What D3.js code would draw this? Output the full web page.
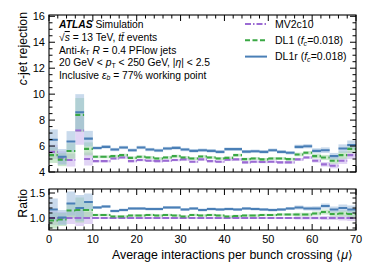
<!DOCTYPE html>
<html><head><meta charset="utf-8">
<script src="https://cdn.jsdelivr.net/npm/d3@7"></script>
<style>
body{margin:0;background:#fff;}
text{font-family:"Liberation Sans",Arial,Helvetica,sans-serif;fill:#000;}
</style></head>
<body><svg id="c" width="374" height="280"></svg>
<script>
// ---- data ----
const binLow = [0,2,4,6,8,10,12,14,16,18,20,22,24,26,28,30,32,34,36,38,40,42,44,46,48,50,52,54,56,58,60,62,64,66,68];
const binWidth = 2;
const seriesNames = ["MV2c10", "DL1", "DL1r"];
const mv2c10 = [5.55,5.10,4.92,7.20,5.00,4.84,4.84,5.04,5.12,4.84,4.92,4.87,4.84,4.87,4.92,4.97,4.79,4.97,4.84,4.79,4.94,4.97,4.74,4.79,4.77,4.79,4.74,4.74,4.97,5.12,4.87,4.59,4.48,4.87,5.30];
const dl1    = [5.30,4.95,5.62,8.40,5.78,5.17,5.17,5.22,5.30,5.09,5.17,5.12,5.04,5.12,5.22,5.12,5.04,5.20,5.12,5.04,5.09,5.30,4.99,5.04,4.97,5.04,5.04,4.99,5.35,5.48,5.22,5.12,4.87,5.30,5.78];
const dl1r   = [6.48,5.17,6.35,8.60,6.57,5.85,5.94,5.73,5.89,5.68,5.89,5.73,5.66,5.81,5.86,5.73,5.63,5.68,5.63,5.55,5.76,5.76,5.57,5.60,5.55,5.68,5.55,5.48,5.94,5.99,5.63,5.68,5.22,5.81,6.08];
const mv2c10Err = [0.55,0.50,0.50,1.10,0.50,0.10,0.10,0.10,0.10,0.10,0.10,0.10,0.10,0.10,0.10,0.10,0.10,0.10,0.10,0.10,0.10,0.10,0.10,0.10,0.10,0.10,0.10,0.10,0.12,0.12,0.15,0.18,0.20,0.25,0.30];
const dl1Err    = [0.60,0.50,0.60,1.30,0.50,0.11,0.11,0.11,0.11,0.11,0.11,0.11,0.11,0.11,0.11,0.11,0.11,0.11,0.11,0.11,0.11,0.11,0.11,0.11,0.11,0.11,0.11,0.11,0.14,0.14,0.17,0.20,0.22,0.28,0.32];
const dl1rErr   = [0.80,0.60,0.80,1.40,0.60,0.13,0.13,0.13,0.13,0.13,0.13,0.13,0.13,0.13,0.13,0.13,0.13,0.13,0.13,0.13,0.13,0.13,0.13,0.13,0.13,0.13,0.13,0.13,0.16,0.16,0.20,0.22,0.25,0.32,0.35];
// ratio to MV2c10
const ratioMv2c10 = [1,1,1,1,1,1,1,1,1,1,1,1,1,1,1,1,1,1,1,1,1,1,1,1,1,1,1,1,1,1,1,1,1,1,1];
const ratioDl1    = [0.95,0.97,1.15,1.16,1.16,1.06,1.06,1.03,1.03,1.05,1.05,1.06,1.05,1.06,1.05,1.03,1.06,1.05,1.06,1.05,1.03,1.04,1.05,1.05,1.06,1.06,1.07,1.07,1.07,1.07,1.09,1.12,1.08,1.09,1.08];
const ratioDl1r   = [1.17,1.01,1.29,1.20,1.32,1.21,1.23,1.14,1.16,1.19,1.19,1.18,1.18,1.21,1.21,1.17,1.19,1.16,1.18,1.17,1.18,1.17,1.19,1.18,1.17,1.16,1.17,1.19,1.21,1.19,1.19,1.24,1.17,1.20,1.17];
const ratioMv2c10Err = [0.14,0.12,0.12,0.16,0.12,0.02,0.02,0.02,0.02,0.02,0.02,0.02,0.02,0.02,0.02,0.02,0.02,0.02,0.02,0.02,0.02,0.02,0.02,0.02,0.02,0.02,0.02,0.02,0.03,0.03,0.03,0.04,0.04,0.05,0.06];
const ratioDl1Err    = [0.16,0.13,0.15,0.25,0.14,0.025,0.025,0.025,0.025,0.025,0.025,0.025,0.025,0.025,0.025,0.025,0.025,0.025,0.025,0.025,0.025,0.025,0.025,0.025,0.025,0.025,0.025,0.025,0.035,0.035,0.04,0.05,0.05,0.06,0.07];
const ratioDl1rErr   = [0.22,0.15,0.24,0.26,0.17,0.03,0.03,0.03,0.03,0.03,0.03,0.03,0.03,0.03,0.03,0.03,0.03,0.03,0.03,0.03,0.03,0.03,0.03,0.03,0.03,0.03,0.03,0.03,0.04,0.04,0.045,0.05,0.06,0.07,0.08];
const mainTicks = [4,6,8,10,12,14,16];
const ratioTicks = [1.0,1.5];
const xTicks = [0,10,20,30,40,50,60,70];

// ---- styles ----
const styles = {
  MV2c10:{color:"#9b6bd3", band:"#c9b0ec", dash:"6,2,1.5,2"},
  DL1:{color:"#3aa844", band:"#9fd6a3", dash:"5,2.5"},
  DL1r:{color:"#4a7fb6", band:"#9dbcdc", dash:null}
};

const svg = d3.select("#c");
const x = d3.scaleLinear().domain([0,70]).range([49,356]);
const yMain = d3.scaleLinear().domain([4,16.1]).range([172,15]);
const yRatio = d3.scaleLinear().domain([0.76,1.58]).range([230,189]);

function drawPanel(y, series, majorTicks, minorStep, fmt, drawXLabels){
  const g = svg.append("g");
  const [y0, y1] = y.domain();
  series.forEach(s=>{
    const st = styles[s.name];
    g.append("g").selectAll("rect").data(s.vals).join("rect")
      .attr("x",(d,i)=>x(binLow[i]))
      .attr("width",(d,i)=>x(binLow[i]+binWidth)-x(binLow[i]))
      .attr("y",(d,i)=>y(Math.min(d+s.err[i], y1)))
      .attr("height",(d,i)=>y(Math.max(d-s.err[i], y0))-y(Math.min(d+s.err[i], y1)))
      .attr("fill",st.band).attr("fill-opacity",0.55);
  });
  series.forEach(s=>{
    const st = styles[s.name];
    const p = d3.path();
    s.vals.forEach((d,i)=>{ p.moveTo(x(binLow[i]), y(d)); p.lineTo(x(binLow[i]+binWidth), y(d)); });
    g.append("path").attr("d",p.toString()).attr("fill","none")
      .attr("stroke",st.color).attr("stroke-width",2.1)
      .attr("stroke-dasharray",st.dash);
  });
  const r = y.range();
  g.append("rect").attr("x",x(0)).attr("y",r[1]).attr("width",x(70)-x(0)).attr("height",r[0]-r[1])
    .attr("fill","none").attr("stroke","#000").attr("stroke-width",1.1);
  const xMinor = d3.range(0,70.01,2);
  xMinor.forEach(v=>{
    const major = xTicks.includes(v);
    const len = major?6:3.5;
    g.append("line").attr("x1",x(v)).attr("x2",x(v)).attr("y1",r[0]).attr("y2",r[0]-len).attr("stroke","#000").attr("stroke-width",1);
    g.append("line").attr("x1",x(v)).attr("x2",x(v)).attr("y1",r[1]).attr("y2",r[1]+len).attr("stroke","#000").attr("stroke-width",1);
  });
  const ticksAll = d3.range(Math.ceil(y0/minorStep)*minorStep, y1+1e-9, minorStep);
  ticksAll.forEach(v=>{
    const major = majorTicks.some(t=>Math.abs(t-v)<1e-6);
    const len = major?6:3.5;
    g.append("line").attr("x1",x(0)).attr("x2",x(0)+len).attr("y1",y(v)).attr("y2",y(v)).attr("stroke","#000").attr("stroke-width",1);
    g.append("line").attr("x1",x(70)).attr("x2",x(70)-len).attr("y1",y(v)).attr("y2",y(v)).attr("stroke","#000").attr("stroke-width",1);
  });
  majorTicks.forEach(v=>{
    g.append("text").attr("x",x(0)-4).attr("y",y(v)+4).attr("text-anchor","end")
      .attr("font-size",11).text(fmt(v));
  });
  if(drawXLabels){
    xTicks.forEach(v=>{
      g.append("text").attr("x",x(v)).attr("y",r[0]+13).attr("text-anchor","middle")
        .attr("font-size",11).text(v);
    });
  }
}

drawPanel(yMain, [
  {name:"MV2c10", vals:mv2c10, err:mv2c10Err},
  {name:"DL1", vals:dl1, err:dl1Err},
  {name:"DL1r", vals:dl1r, err:dl1rErr}
], mainTicks, 0.5, d=>d, false);

drawPanel(yRatio, [
  {name:"MV2c10", vals:ratioMv2c10, err:ratioMv2c10Err},
  {name:"DL1", vals:ratioDl1, err:ratioDl1Err},
  {name:"DL1r", vals:ratioDl1r, err:ratioDl1rErr}
], ratioTicks, 0.1, d3.format(".1f"), true);

function rich(parent, xPos, yPos, parts, size){
  const t = parent.append("text").attr("x",xPos).attr("y",yPos).attr("font-size",size);
  let shift = 0;
  parts.forEach(p=>{
    const ts = t.append("tspan").text(p.t);
    if(p.i) ts.attr("font-style","italic");
    if(p.b) ts.attr("font-weight","bold");
    if(p.ol) ts.attr("text-decoration","overline");
    if(p.sub){ ts.attr("dy", 1.8 - shift).attr("font-size", size*0.68); shift = 1.8; }
    else if(shift){ ts.attr("dy", -shift); shift = 0; }
  });
  return t;
}

svg.append("text").attr("transform",`translate(27,${yMain.range()[1]-3}) rotate(-90)`)
  .attr("text-anchor","end").attr("font-size",12.3)
  .call(t=>{ t.append("tspan").attr("font-style","italic").text("c"); t.append("tspan").text("-jet rejection"); });
svg.append("text").attr("transform",`translate(27,${yRatio.range()[1]}) rotate(-90)`)
  .attr("text-anchor","end").attr("font-size",12.3).text("Ratio");
svg.append("text").attr("x",353).attr("y",259).attr("text-anchor","end").attr("font-size",12.4)
  .call(t=>{ t.append("tspan").text("Average interactions per bunch crossing \u27E8"); t.append("tspan").attr("font-style","italic").text("\u03BC"); t.append("tspan").text("\u27E9"); });

const lx = 59, fs = 10.3;
rich(svg, lx, 28, [{t:"ATLAS",b:1,i:1},{t:" Simulation"}], fs);
rich(svg, lx, 41, [{t:"\u221A"},{t:"s",i:1,ol:1},{t:" = 13 TeV, "},{t:"t",i:1},{t:"t\u0304",i:1},{t:" events"}], fs);
rich(svg, lx, 53.5, [{t:"Anti-"},{t:"k",i:1},{t:"T",sub:1},{t:" "},{t:"R",i:1},{t:" = 0.4 PFlow jets"}], fs);
rich(svg, lx, 66, [{t:"20 GeV < "},{t:"p",i:1},{t:"T",sub:1},{t:" < 250 GeV, |"},{t:"\u03B7",i:1},{t:"| < 2.5"}], fs);
rich(svg, lx, 78.5, [{t:"Inclusive "},{t:"\u03B5",i:1},{t:"b",sub:1,i:1},{t:" = 77% working point"}], fs);

const legendLabels = [
  [{t:"MV2c10"}],
  [{t:"DL1 ("},{t:"f",i:1},{t:"c",sub:1,i:1},{t:"=0.018)"}],
  [{t:"DL1r ("},{t:"f",i:1},{t:"c",sub:1,i:1},{t:"=0.018)"}]
];
seriesNames.forEach((n,i)=>{
  const yy = 24 + i*16.3;
  const st = styles[n];
  svg.append("line").attr("x1",245).attr("x2",267).attr("y1",yy).attr("y2",yy)
    .attr("stroke",st.color).attr("stroke-width",2).attr("stroke-dasharray",st.dash);
  rich(svg, 275, yy+3.8, legendLabels[i], 10.5);
});
</script></body></html>
